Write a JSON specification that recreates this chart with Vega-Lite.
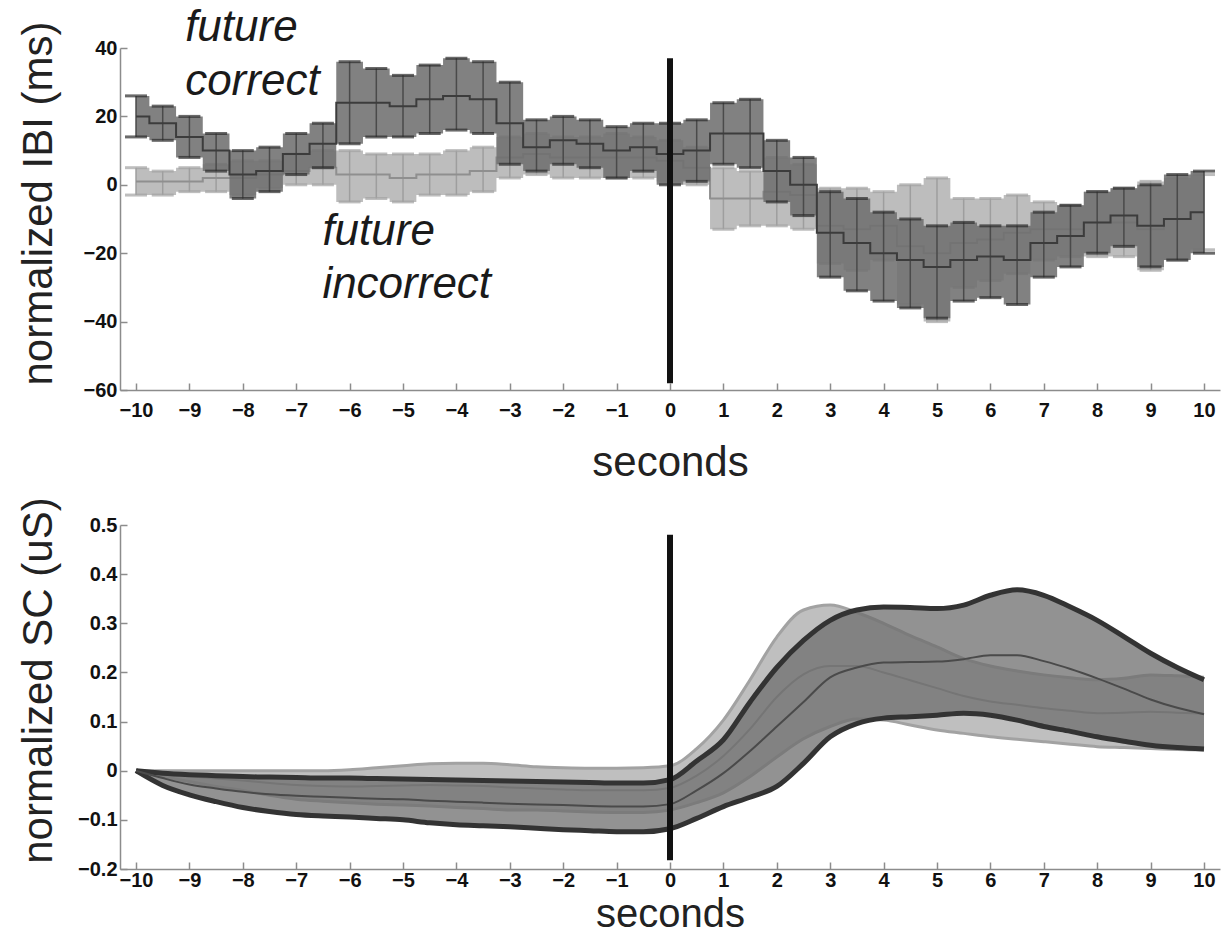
{
  "$schema": "https://vega.github.io/schema/vega-lite/v6.json",
  "background": "white",
  "padding": {"left": 16, "top": 5, "right": 5, "bottom": 0},
  "spacing": 13,
  "config": {
    "view": {"stroke": null},
    "font": "Liberation Sans",
    "axis": {
      "grid": false,
      "domainColor": "#8c8c8c",
      "domainWidth": 1.5,
      "tickColor": "#8c8c8c",
      "tickWidth": 1.5,
      "tickSize": -7,
      "labelFont": "Liberation Sans",
      "labelFontWeight": "bold",
      "labelFontSize": 20,
      "labelColor": "#111111",
      "titleFont": "Liberation Sans",
      "titleFontWeight": "normal",
      "titleFontSize": 42,
      "titleColor": "#222222"
    }
  },
  "datasets": {
    "ibi": [
      {"t": -10, "grp": "correct", "mean": 20, "lo": 14, "hi": 26},
      {"t": -9.5, "grp": "correct", "mean": 18, "lo": 13, "hi": 23},
      {"t": -9, "grp": "correct", "mean": 14, "lo": 8, "hi": 20},
      {"t": -8.5, "grp": "correct", "mean": 10, "lo": 4, "hi": 15},
      {"t": -8, "grp": "correct", "mean": 3, "lo": -4, "hi": 10},
      {"t": -7.5, "grp": "correct", "mean": 4, "lo": -2, "hi": 11},
      {"t": -7, "grp": "correct", "mean": 9, "lo": 3, "hi": 15},
      {"t": -6.5, "grp": "correct", "mean": 12, "lo": 5, "hi": 18},
      {"t": -6, "grp": "correct", "mean": 24, "lo": 12, "hi": 36},
      {"t": -5.5, "grp": "correct", "mean": 24, "lo": 14, "hi": 34},
      {"t": -5, "grp": "correct", "mean": 23, "lo": 14, "hi": 32},
      {"t": -4.5, "grp": "correct", "mean": 25, "lo": 15, "hi": 35},
      {"t": -4, "grp": "correct", "mean": 26, "lo": 16, "hi": 37},
      {"t": -3.5, "grp": "correct", "mean": 25, "lo": 15, "hi": 36},
      {"t": -3, "grp": "correct", "mean": 18, "lo": 6, "hi": 30},
      {"t": -2.5, "grp": "correct", "mean": 11, "lo": 4, "hi": 19},
      {"t": -2, "grp": "correct", "mean": 13, "lo": 6, "hi": 20},
      {"t": -1.5, "grp": "correct", "mean": 12, "lo": 5, "hi": 19},
      {"t": -1, "grp": "correct", "mean": 10, "lo": 2, "hi": 17},
      {"t": -0.5, "grp": "correct", "mean": 11, "lo": 4, "hi": 18},
      {"t": 0, "grp": "correct", "mean": 9, "lo": 0, "hi": 18},
      {"t": 0.5, "grp": "correct", "mean": 10, "lo": 1, "hi": 19},
      {"t": 1, "grp": "correct", "mean": 15, "lo": 6, "hi": 24},
      {"t": 1.5, "grp": "correct", "mean": 15, "lo": 5, "hi": 25},
      {"t": 2, "grp": "correct", "mean": 4, "lo": -5, "hi": 13},
      {"t": 2.5, "grp": "correct", "mean": 0, "lo": -9, "hi": 8},
      {"t": 3, "grp": "correct", "mean": -14, "lo": -27, "hi": -2},
      {"t": 3.5, "grp": "correct", "mean": -17, "lo": -31, "hi": -4},
      {"t": 4, "grp": "correct", "mean": -20, "lo": -34, "hi": -8},
      {"t": 4.5, "grp": "correct", "mean": -22, "lo": -36, "hi": -10},
      {"t": 5, "grp": "correct", "mean": -24, "lo": -39, "hi": -12},
      {"t": 5.5, "grp": "correct", "mean": -22, "lo": -34, "hi": -11},
      {"t": 6, "grp": "correct", "mean": -21, "lo": -33, "hi": -12},
      {"t": 6.5, "grp": "correct", "mean": -22, "lo": -35, "hi": -12},
      {"t": 7, "grp": "correct", "mean": -17, "lo": -27, "hi": -8},
      {"t": 7.5, "grp": "correct", "mean": -15, "lo": -24, "hi": -6},
      {"t": 8, "grp": "correct", "mean": -11, "lo": -20, "hi": -2},
      {"t": 8.5, "grp": "correct", "mean": -9, "lo": -18, "hi": -1},
      {"t": 9, "grp": "correct", "mean": -12, "lo": -24, "hi": 0},
      {"t": 9.5, "grp": "correct", "mean": -10, "lo": -22, "hi": 3},
      {"t": 10, "grp": "correct", "mean": -8, "lo": -20, "hi": 4},
      {"t": -10, "grp": "incorrect", "mean": 1, "lo": -3, "hi": 5},
      {"t": -9.5, "grp": "incorrect", "mean": 1, "lo": -3, "hi": 4},
      {"t": -9, "grp": "incorrect", "mean": 1, "lo": -2, "hi": 5},
      {"t": -8.5, "grp": "incorrect", "mean": 2, "lo": -2, "hi": 6},
      {"t": -8, "grp": "incorrect", "mean": 2, "lo": -3, "hi": 7},
      {"t": -7.5, "grp": "incorrect", "mean": 3, "lo": -1, "hi": 7},
      {"t": -7, "grp": "incorrect", "mean": 4, "lo": 0, "hi": 9},
      {"t": -6.5, "grp": "incorrect", "mean": 5, "lo": 0, "hi": 10},
      {"t": -6, "grp": "incorrect", "mean": 3, "lo": -5, "hi": 10},
      {"t": -5.5, "grp": "incorrect", "mean": 3, "lo": -4, "hi": 9},
      {"t": -5, "grp": "incorrect", "mean": 2, "lo": -5, "hi": 9},
      {"t": -4.5, "grp": "incorrect", "mean": 3, "lo": -3, "hi": 9},
      {"t": -4, "grp": "incorrect", "mean": 3, "lo": -3, "hi": 10},
      {"t": -3.5, "grp": "incorrect", "mean": 4, "lo": -2, "hi": 11},
      {"t": -3, "grp": "incorrect", "mean": 8, "lo": 2, "hi": 14},
      {"t": -2.5, "grp": "incorrect", "mean": 9, "lo": 3, "hi": 15},
      {"t": -2, "grp": "incorrect", "mean": 8, "lo": 2, "hi": 14},
      {"t": -1.5, "grp": "incorrect", "mean": 8, "lo": 2, "hi": 14},
      {"t": -1, "grp": "incorrect", "mean": 8, "lo": 2, "hi": 15},
      {"t": -0.5, "grp": "incorrect", "mean": 8, "lo": 2, "hi": 14},
      {"t": 0, "grp": "incorrect", "mean": 7, "lo": 1, "hi": 13},
      {"t": 0.5, "grp": "incorrect", "mean": 5, "lo": 0, "hi": 11},
      {"t": 1, "grp": "incorrect", "mean": -4, "lo": -13, "hi": 5},
      {"t": 1.5, "grp": "incorrect", "mean": -4, "lo": -12, "hi": 4},
      {"t": 2, "grp": "incorrect", "mean": -2, "lo": -12, "hi": 8},
      {"t": 2.5, "grp": "incorrect", "mean": -3, "lo": -13, "hi": 6},
      {"t": 3, "grp": "incorrect", "mean": -12, "lo": -23, "hi": -1},
      {"t": 3.5, "grp": "incorrect", "mean": -13, "lo": -25, "hi": -1},
      {"t": 4, "grp": "incorrect", "mean": -12, "lo": -22, "hi": -2},
      {"t": 4.5, "grp": "incorrect", "mean": -18, "lo": -35, "hi": 0},
      {"t": 5, "grp": "incorrect", "mean": -20, "lo": -40, "hi": 2},
      {"t": 5.5, "grp": "incorrect", "mean": -17, "lo": -30, "hi": -4},
      {"t": 6, "grp": "incorrect", "mean": -16, "lo": -28, "hi": -4},
      {"t": 6.5, "grp": "incorrect", "mean": -14, "lo": -26, "hi": -3},
      {"t": 7, "grp": "incorrect", "mean": -13, "lo": -22, "hi": -5},
      {"t": 7.5, "grp": "incorrect", "mean": -13, "lo": -21, "hi": -6},
      {"t": 8, "grp": "incorrect", "mean": -11, "lo": -21, "hi": -2},
      {"t": 8.5, "grp": "incorrect", "mean": -11, "lo": -21, "hi": -1},
      {"t": 9, "grp": "incorrect", "mean": -13, "lo": -25, "hi": 1},
      {"t": 9.5, "grp": "incorrect", "mean": -10, "lo": -22, "hi": 2},
      {"t": 10, "grp": "incorrect", "mean": -8, "lo": -19, "hi": 3}
    ],
    "sc": [
      {"t": -10, "grp": "correct", "lo": 0, "hi": 0, "mean": 0},
      {"t": -9.5, "grp": "correct", "lo": -0.03, "hi": -0.005, "mean": -0.015},
      {"t": -9, "grp": "correct", "lo": -0.049, "hi": -0.008, "mean": -0.028},
      {"t": -8.5, "grp": "correct", "lo": -0.063, "hi": -0.01, "mean": -0.036},
      {"t": -8, "grp": "correct", "lo": -0.075, "hi": -0.012, "mean": -0.043},
      {"t": -7.5, "grp": "correct", "lo": -0.083, "hi": -0.013, "mean": -0.048},
      {"t": -7, "grp": "correct", "lo": -0.089, "hi": -0.014, "mean": -0.051},
      {"t": -6.5, "grp": "correct", "lo": -0.092, "hi": -0.015, "mean": -0.053},
      {"t": -6, "grp": "correct", "lo": -0.094, "hi": -0.015, "mean": -0.055},
      {"t": -5.5, "grp": "correct", "lo": -0.097, "hi": -0.016, "mean": -0.057},
      {"t": -5, "grp": "correct", "lo": -0.1, "hi": -0.017, "mean": -0.058},
      {"t": -4.5, "grp": "correct", "lo": -0.106, "hi": -0.018, "mean": -0.061},
      {"t": -4, "grp": "correct", "lo": -0.11, "hi": -0.019, "mean": -0.063},
      {"t": -3.5, "grp": "correct", "lo": -0.112, "hi": -0.02, "mean": -0.065},
      {"t": -3, "grp": "correct", "lo": -0.114, "hi": -0.021, "mean": -0.067},
      {"t": -2.5, "grp": "correct", "lo": -0.117, "hi": -0.022, "mean": -0.069},
      {"t": -2, "grp": "correct", "lo": -0.12, "hi": -0.023, "mean": -0.07},
      {"t": -1.5, "grp": "correct", "lo": -0.122, "hi": -0.024, "mean": -0.072},
      {"t": -1, "grp": "correct", "lo": -0.124, "hi": -0.025, "mean": -0.073},
      {"t": -0.5, "grp": "correct", "lo": -0.124, "hi": -0.025, "mean": -0.073},
      {"t": 0, "grp": "correct", "lo": -0.118, "hi": -0.018, "mean": -0.068},
      {"t": 0.5, "grp": "correct", "lo": -0.097, "hi": 0.02, "mean": -0.04},
      {"t": 1, "grp": "correct", "lo": -0.073, "hi": 0.063, "mean": -0.005},
      {"t": 1.5, "grp": "correct", "lo": -0.054, "hi": 0.14, "mean": 0.04},
      {"t": 2, "grp": "correct", "lo": -0.032, "hi": 0.21, "mean": 0.09},
      {"t": 2.5, "grp": "correct", "lo": 0.015, "hi": 0.265, "mean": 0.14},
      {"t": 3, "grp": "correct", "lo": 0.069, "hi": 0.306, "mean": 0.19},
      {"t": 3.5, "grp": "correct", "lo": 0.096, "hi": 0.327, "mean": 0.21},
      {"t": 4, "grp": "correct", "lo": 0.107, "hi": 0.333, "mean": 0.22},
      {"t": 4.5, "grp": "correct", "lo": 0.11, "hi": 0.332, "mean": 0.221},
      {"t": 5, "grp": "correct", "lo": 0.113, "hi": 0.33, "mean": 0.222},
      {"t": 5.5, "grp": "correct", "lo": 0.117, "hi": 0.337, "mean": 0.227},
      {"t": 6, "grp": "correct", "lo": 0.113, "hi": 0.357, "mean": 0.235},
      {"t": 6.5, "grp": "correct", "lo": 0.103, "hi": 0.368, "mean": 0.235},
      {"t": 7, "grp": "correct", "lo": 0.09, "hi": 0.357, "mean": 0.223},
      {"t": 7.5, "grp": "correct", "lo": 0.08, "hi": 0.333, "mean": 0.207},
      {"t": 8, "grp": "correct", "lo": 0.069, "hi": 0.306, "mean": 0.188},
      {"t": 8.5, "grp": "correct", "lo": 0.06, "hi": 0.273, "mean": 0.167},
      {"t": 9, "grp": "correct", "lo": 0.052, "hi": 0.239, "mean": 0.145},
      {"t": 9.5, "grp": "correct", "lo": 0.047, "hi": 0.21, "mean": 0.128},
      {"t": 10, "grp": "correct", "lo": 0.044, "hi": 0.185, "mean": 0.115},
      {"t": -10, "grp": "incorrect", "lo": 0, "hi": 0, "mean": 0},
      {"t": -9.5, "grp": "incorrect", "lo": -0.012, "hi": 0, "mean": -0.006},
      {"t": -9, "grp": "incorrect", "lo": -0.022, "hi": 0, "mean": -0.011},
      {"t": -8.5, "grp": "incorrect", "lo": -0.032, "hi": 0, "mean": -0.016},
      {"t": -8, "grp": "incorrect", "lo": -0.04, "hi": 0, "mean": -0.02},
      {"t": -7.5, "grp": "incorrect", "lo": -0.05, "hi": 0, "mean": -0.025},
      {"t": -7, "grp": "incorrect", "lo": -0.058, "hi": 0, "mean": -0.029},
      {"t": -6.5, "grp": "incorrect", "lo": -0.062, "hi": 0, "mean": -0.031},
      {"t": -6, "grp": "incorrect", "lo": -0.065, "hi": 0.002, "mean": -0.032},
      {"t": -5.5, "grp": "incorrect", "lo": -0.068, "hi": 0.006, "mean": -0.031},
      {"t": -5, "grp": "incorrect", "lo": -0.07, "hi": 0.01, "mean": -0.03},
      {"t": -4.5, "grp": "incorrect", "lo": -0.072, "hi": 0.014, "mean": -0.029},
      {"t": -4, "grp": "incorrect", "lo": -0.075, "hi": 0.015, "mean": -0.03},
      {"t": -3.5, "grp": "incorrect", "lo": -0.077, "hi": 0.015, "mean": -0.031},
      {"t": -3, "grp": "incorrect", "lo": -0.08, "hi": 0.012, "mean": -0.034},
      {"t": -2.5, "grp": "incorrect", "lo": -0.08, "hi": 0.008, "mean": -0.036},
      {"t": -2, "grp": "incorrect", "lo": -0.082, "hi": 0.006, "mean": -0.038},
      {"t": -1.5, "grp": "incorrect", "lo": -0.084, "hi": 0.005, "mean": -0.04},
      {"t": -1, "grp": "incorrect", "lo": -0.085, "hi": 0.005, "mean": -0.04},
      {"t": -0.5, "grp": "incorrect", "lo": -0.085, "hi": 0.006, "mean": -0.04},
      {"t": 0, "grp": "incorrect", "lo": -0.08, "hi": 0.01, "mean": -0.035},
      {"t": 0.5, "grp": "incorrect", "lo": -0.065, "hi": 0.045, "mean": -0.01},
      {"t": 1, "grp": "incorrect", "lo": -0.045, "hi": 0.103, "mean": 0.03},
      {"t": 1.5, "grp": "incorrect", "lo": -0.012, "hi": 0.185, "mean": 0.085},
      {"t": 2, "grp": "incorrect", "lo": 0.028, "hi": 0.272, "mean": 0.15},
      {"t": 2.5, "grp": "incorrect", "lo": 0.065, "hi": 0.327, "mean": 0.196},
      {"t": 3, "grp": "incorrect", "lo": 0.09, "hi": 0.337, "mean": 0.213},
      {"t": 3.5, "grp": "incorrect", "lo": 0.105, "hi": 0.322, "mean": 0.213},
      {"t": 4, "grp": "incorrect", "lo": 0.103, "hi": 0.3, "mean": 0.2},
      {"t": 4.5, "grp": "incorrect", "lo": 0.093, "hi": 0.275, "mean": 0.184},
      {"t": 5, "grp": "incorrect", "lo": 0.083, "hi": 0.252, "mean": 0.168},
      {"t": 5.5, "grp": "incorrect", "lo": 0.076, "hi": 0.228, "mean": 0.152},
      {"t": 6, "grp": "incorrect", "lo": 0.069, "hi": 0.213, "mean": 0.141},
      {"t": 6.5, "grp": "incorrect", "lo": 0.064, "hi": 0.203, "mean": 0.134},
      {"t": 7, "grp": "incorrect", "lo": 0.059, "hi": 0.195, "mean": 0.127},
      {"t": 7.5, "grp": "incorrect", "lo": 0.054, "hi": 0.189, "mean": 0.122},
      {"t": 8, "grp": "incorrect", "lo": 0.049, "hi": 0.185, "mean": 0.117},
      {"t": 8.5, "grp": "incorrect", "lo": 0.047, "hi": 0.188, "mean": 0.118},
      {"t": 9, "grp": "incorrect", "lo": 0.045, "hi": 0.195, "mean": 0.12},
      {"t": 9.5, "grp": "incorrect", "lo": 0.043, "hi": 0.193, "mean": 0.118},
      {"t": 10, "grp": "incorrect", "lo": 0.042, "hi": 0.19, "mean": 0.116}
    ],
    "zero_ibi": [{"t": 0, "y1": 37, "y2": -58}],
    "zero_sc": [{"t": 0, "y1": 0.48, "y2": -0.182}],
    "notes": [
      {"t": -9.08, "v": 42.1, "label": "future"},
      {"t": -9.08, "v": 26.3, "label": "correct"},
      {"t": -6.51, "v": -17.5, "label": "future"},
      {"t": -6.51, "v": -33.0, "label": "incorrect"}
    ]
  },
  "vconcat": [
    {
      "width": 1100,
      "height": 342,
      "data": {"name": "ibi"},
      "encoding": {
        "x": {
          "field": "t",
          "type": "quantitative",
          "title": "seconds",
          "scale": {"domain": [-10.3, 10.3], "nice": false, "zero": false},
          "axis": {
            "values": [-10, -9, -8, -7, -6, -5, -4, -3, -2, -1, 0, 1, 2, 3, 4, 5, 6, 7, 8, 9, 10],
            "labelPadding": 17,
            "titleY": 85,
            "titleBaseline": "alphabetic"
          }
        }
      },
      "layer": [
        {
          "transform": [{"filter": "datum.grp === 'incorrect'"}],
          "mark": {"type": "area", "interpolate": "step", "color": "#bdbdbd", "opacity": 1},
          "encoding": {
            "y": {
              "field": "lo",
              "type": "quantitative",
              "title": "normalized IBI (ms)",
              "scale": {"domain": [-60, 40], "nice": false, "zero": false},
              "axis": {
                "values": [-60, -40, -20, 0, 20, 40],
                "labelPadding": 10,
                "titleX": -69,
                "titleY": 155,
                "titleAlign": "center",
                "titleBaseline": "alphabetic"
              }
            },
            "y2": {"field": "hi"}
          }
        },
        {
          "transform": [{"filter": "datum.grp === 'incorrect'"}],
          "mark": {"type": "rule", "color": "#9e9e9e", "strokeWidth": 1.5},
          "encoding": {
            "y": {"field": "lo", "type": "quantitative", "title": "normalized IBI (ms)"},
            "y2": {"field": "hi"}
          }
        },
        {
          "transform": [{"filter": "datum.grp === 'incorrect'"}],
          "mark": {"type": "tick", "orient": "horizontal", "size": 22, "thickness": 3, "color": "#a3a3a3"},
          "encoding": {"y": {"field": "hi", "type": "quantitative", "title": "normalized IBI (ms)"}}
        },
        {
          "transform": [{"filter": "datum.grp === 'incorrect'"}],
          "mark": {"type": "tick", "orient": "horizontal", "size": 22, "thickness": 3, "color": "#a3a3a3"},
          "encoding": {"y": {"field": "lo", "type": "quantitative", "title": "normalized IBI (ms)"}}
        },
        {
          "transform": [{"filter": "datum.grp === 'incorrect'"}],
          "mark": {"type": "line", "interpolate": "step", "color": "#8f8f8f", "strokeWidth": 2},
          "encoding": {"y": {"field": "mean", "type": "quantitative", "title": "normalized IBI (ms)"}}
        },
        {
          "transform": [{"filter": "datum.grp === 'correct'"}],
          "mark": {"type": "area", "interpolate": "step", "color": "#6f6f6f", "opacity": 0.88},
          "encoding": {
            "y": {"field": "lo", "type": "quantitative", "title": "normalized IBI (ms)"},
            "y2": {"field": "hi"}
          }
        },
        {
          "transform": [{"filter": "datum.grp === 'correct'"}],
          "mark": {"type": "rule", "color": "#4a4a4a", "strokeWidth": 1.5},
          "encoding": {
            "y": {"field": "lo", "type": "quantitative", "title": "normalized IBI (ms)"},
            "y2": {"field": "hi"}
          }
        },
        {
          "transform": [{"filter": "datum.grp === 'correct'"}],
          "mark": {"type": "tick", "orient": "horizontal", "size": 22, "thickness": 3, "color": "#2b2b2b"},
          "encoding": {"y": {"field": "hi", "type": "quantitative", "title": "normalized IBI (ms)"}}
        },
        {
          "transform": [{"filter": "datum.grp === 'correct'"}],
          "mark": {"type": "tick", "orient": "horizontal", "size": 22, "thickness": 3, "color": "#2b2b2b"},
          "encoding": {"y": {"field": "lo", "type": "quantitative", "title": "normalized IBI (ms)"}}
        },
        {
          "transform": [{"filter": "datum.grp === 'correct'"}],
          "mark": {"type": "line", "interpolate": "step", "color": "#3c3c3c", "strokeWidth": 2},
          "encoding": {"y": {"field": "mean", "type": "quantitative", "title": "normalized IBI (ms)"}}
        },
        {
          "data": {"name": "zero_ibi"},
          "mark": {"type": "rule", "color": "#111111", "strokeWidth": 6},
          "encoding": {
            "y": {"field": "y1", "type": "quantitative", "title": "normalized IBI (ms)"},
            "y2": {"field": "y2"}
          }
        },
        {
          "data": {"name": "notes"},
          "mark": {"type": "text", "align": "left", "baseline": "alphabetic", "fontSize": 44, "fontStyle": "italic", "color": "#1a1a1a", "font": "Liberation Sans"},
          "encoding": {
            "y": {"field": "v", "type": "quantitative", "title": "normalized IBI (ms)"},
            "text": {"field": "label"}
          }
        }
      ]
    },
    {
      "width": 1100,
      "height": 344,
      "data": {"name": "sc"},
      "encoding": {
        "x": {
          "field": "t",
          "type": "quantitative",
          "title": "seconds",
          "scale": {"domain": [-10.3, 10.3], "nice": false, "zero": false},
          "axis": {
            "values": [-10, -9, -8, -7, -6, -5, -4, -3, -2, -1, 0, 1, 2, 3, 4, 5, 6, 7, 8, 9, 10],
            "labelPadding": 8,
            "titleY": 57,
            "titleFontSize": 40,
            "titleBaseline": "alphabetic"
          }
        }
      },
      "layer": [
        {
          "transform": [{"filter": "datum.grp === 'incorrect'"}],
          "mark": {"type": "area", "interpolate": "monotone", "color": "#bcbcbc", "opacity": 0.95},
          "encoding": {
            "y": {
              "field": "lo",
              "type": "quantitative",
              "title": "normalized SC (uS)",
              "scale": {"domain": [-0.2, 0.5], "nice": false, "zero": false},
              "axis": {
                "values": [-0.2, -0.1, 0, 0.1, 0.2, 0.3, 0.4, 0.5],
                "format": "~g",
                "labelPadding": 10,
                "titleX": -69,
                "titleY": 155,
                "titleAlign": "center",
                "titleBaseline": "alphabetic"
              }
            },
            "y2": {"field": "hi"}
          }
        },
        {
          "transform": [{"filter": "datum.grp === 'incorrect'"}],
          "mark": {"type": "line", "interpolate": "monotone", "color": "#a2a2a2", "strokeWidth": 3},
          "encoding": {"y": {"field": "hi", "type": "quantitative", "title": "normalized SC (uS)"}}
        },
        {
          "transform": [{"filter": "datum.grp === 'incorrect'"}],
          "mark": {"type": "line", "interpolate": "monotone", "color": "#a2a2a2", "strokeWidth": 3},
          "encoding": {"y": {"field": "lo", "type": "quantitative", "title": "normalized SC (uS)"}}
        },
        {
          "transform": [{"filter": "datum.grp === 'incorrect'"}],
          "mark": {"type": "line", "interpolate": "monotone", "color": "#8a8a8a", "strokeWidth": 2},
          "encoding": {"y": {"field": "mean", "type": "quantitative", "title": "normalized SC (uS)"}}
        },
        {
          "transform": [{"filter": "datum.grp === 'correct'"}],
          "mark": {"type": "area", "interpolate": "monotone", "color": "#6e6e6e", "opacity": 0.75},
          "encoding": {
            "y": {"field": "lo", "type": "quantitative", "title": "normalized SC (uS)"},
            "y2": {"field": "hi"}
          }
        },
        {
          "transform": [{"filter": "datum.grp === 'correct'"}],
          "mark": {"type": "line", "interpolate": "monotone", "color": "#333333", "strokeWidth": 5},
          "encoding": {"y": {"field": "hi", "type": "quantitative", "title": "normalized SC (uS)"}}
        },
        {
          "transform": [{"filter": "datum.grp === 'correct'"}],
          "mark": {"type": "line", "interpolate": "monotone", "color": "#333333", "strokeWidth": 5},
          "encoding": {"y": {"field": "lo", "type": "quantitative", "title": "normalized SC (uS)"}}
        },
        {
          "transform": [{"filter": "datum.grp === 'correct'"}],
          "mark": {"type": "line", "interpolate": "monotone", "color": "#4a4a4a", "strokeWidth": 2},
          "encoding": {"y": {"field": "mean", "type": "quantitative", "title": "normalized SC (uS)"}}
        },
        {
          "data": {"name": "zero_sc"},
          "mark": {"type": "rule", "color": "#111111", "strokeWidth": 6},
          "encoding": {
            "y": {"field": "y1", "type": "quantitative", "title": "normalized SC (uS)"},
            "y2": {"field": "y2"}
          }
        }
      ]
    }
  ]
}
